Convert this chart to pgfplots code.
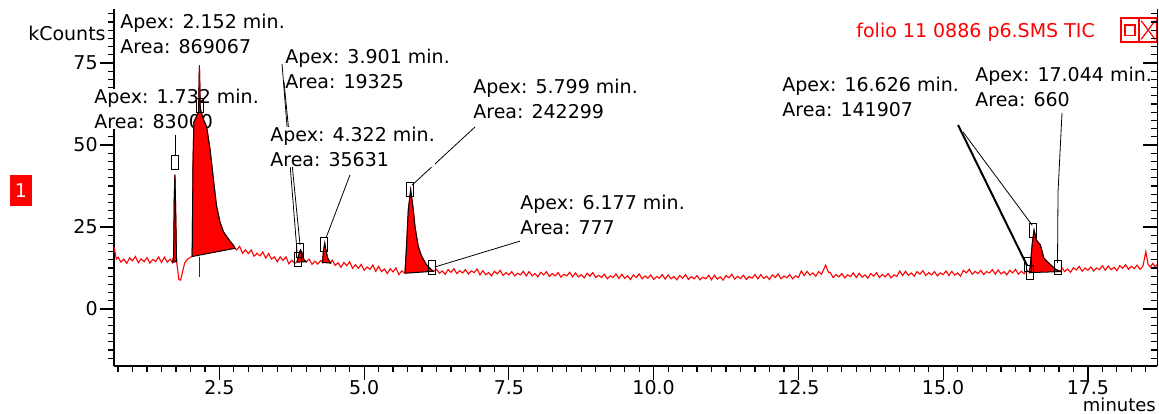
\documentclass[border=0pt]{standalone}
\usepackage{fontspec}
\setmainfont{DejaVu Sans}
\usepackage{pgfplots}
\pgfplotsset{compat=1.18}
\definecolor{tic}{RGB}{255,0,0}
\definecolor{rtmark}{RGB}{150,0,0}

\newcommand{\lblfont}{\fontsize{9.5pt}{12.5pt}\selectfont}

\begin{document}
\begin{tikzpicture}[font=\lblfont,
    lbl/.style={fill=white, inner sep=0pt, align=left, anchor=north west},
    leader/.style={black, line width=0.4pt}]
\begin{axis}[
    name=main,
    x=28.95pt, y=1.64pt,
    xmin=0.68, xmax=18.7, ymin=-17.4, ymax=91.5,
    axis x line*=bottom, axis y line*=left,
    axis line style={-, line width=0.6pt},
    tick align=outside,
    major tick length=7pt, minor tick length=3pt,
    tick style={black, line width=0.6pt},
    xtick={2.5,5,...,17.5},
    xticklabels={2.5,5.0,7.5,10.0,12.5,15.0,17.5},
    minor xtick={0.75,1,...,18.5},
    ytick={0,25,50,75},
    yticklabels={0,25,50,75},
    minor ytick={-15,-12.5,...,90},
    every tick label/.append style={font=\lblfont},
    xticklabel style={inner sep=0pt},
    yticklabel style={inner sep=1pt},
    clip=false
]
% leader lines (drawn first, the white label boxes cover parts of them)
\draw[leader] (axis cs:1.737,47) -- (axis cs:1.737,53);
\draw[leader] (axis cs:3.582,74.7) -- (axis cs:3.841,17.5);
\draw[leader] (axis cs:3.616,69.2) -- (axis cs:3.893,19.5);
\draw[leader] (axis cs:4.756,40.9) -- (axis cs:4.34,21.6);
\draw[leader] (axis cs:6.915,55.5) -- (axis cs:5.83,37.8);
\draw[leader] (axis cs:7.692,20.7) -- (axis cs:6.22,12.8);
\draw[black, line width=1pt] (axis cs:15.257,56.1) -- (axis cs:16.45,13.2);
\draw[leader] (axis cs:15.343,54.0) -- (axis cs:16.54,25.5);
\draw[leader] (axis cs:17.053,59.8) -- (axis cs:16.984,35.7) -- (axis cs:16.975,14.0);

% peak labels
\node[lbl] at (axis cs:0.784,89.9) {Apex: 2.152 min.\\Area: 869067};
\node[lbl] at (axis cs:0.335,67.1) {Apex: 1.732 min.\\Area: 83000};
\node[lbl] at (axis cs:3.633,79.3) {Apex: 3.901 min.\\Area: 19325};
\node[lbl] at (axis cs:3.374,55.5) {Apex: 4.322 min.\\Area: 35631};
\node[lbl] at (axis cs:6.880,70.1) {Apex: 5.799 min.\\Area: 242299};
\node[lbl] at (axis cs:7.692,34.8) {Apex: 6.177 min.\\Area: 777};
\node[lbl] at (axis cs:12.217,70.7) {Apex: 16.626 min.\\Area: 141907};
\node[lbl] at (axis cs:15.55,73.8) {Apex: 17.044 min.\\Area: 660};

% TIC trace
\addplot[tic, line width=0.55pt] coordinates {
(0.68,19.0) (0.72,15.2) (0.75,15.8) (0.80,14.3) (0.85,15.2) (0.90,13.9) (0.95,15.6)
(1.00,14.7) (1.05,16.0) (1.10,14.1) (1.15,15.3) (1.20,14.4) (1.25,15.7) (1.30,14.0)
(1.35,15.1) (1.40,14.5) (1.45,15.9) (1.50,14.2) (1.55,15.8) (1.60,14.3) (1.65,15.2)
(1.69,14.2) (1.71,16.0) (1.72,33.0) (1.732,41.0) (1.745,30.0) (1.76,14.5) (1.78,12.0)
(1.80,9.0) (1.83,8.8) (1.86,11.0) (1.90,14.0) (1.95,15.2) (2.00,15.8) (2.03,16.0)
(2.045,45.0) (2.06,57.0) (2.10,58.5) (2.14,60.0) (2.155,74.0) (2.17,61.0) (2.22,58.0)
(2.28,55.5) (2.34,48.5) (2.40,39.0) (2.45,31.5) (2.51,26.5) (2.57,23.5) (2.63,22.0)
(2.69,20.5) (2.74,19.5) (2.77,18.5) (2.80,18.0) (2.85,19.1) (2.90,17.0) (2.95,18.0)
(3.00,16.9) (3.05,18.0) (3.10,16.1) (3.15,17.0) (3.20,16.2) (3.25,17.4) (3.30,15.5)
(3.35,16.9) (3.40,15.2) (3.45,15.9) (3.50,14.4) (3.55,15.9) (3.60,14.8) (3.65,15.9)
(3.70,13.8) (3.75,14.9) (3.80,13.9) (3.84,14.3) (3.87,16.5) (3.90,18.0) (3.93,17.0)
(3.96,15.0) (4.00,14.4) (4.05,15.2) (4.10,13.6) (4.15,14.6) (4.20,13.7) (4.25,14.8)
(4.28,14.2) (4.30,18.0) (4.32,20.0) (4.34,18.0) (4.37,15.5) (4.42,14.0) (4.45,14.9)
(4.50,13.3) (4.55,14.1) (4.60,12.7) (4.65,14.2) (4.70,13.2) (4.75,14.4) (4.80,12.4)
(4.85,13.5) (4.90,12.4) (4.95,13.6) (5.00,11.8) (5.05,12.8) (5.10,12.1) (5.15,13.4)
(5.20,11.5) (5.25,13.0) (5.30,11.4) (5.35,12.2) (5.40,10.8) (5.45,12.3) (5.50,11.3)
(5.55,12.5) (5.60,10.5) (5.65,11.6) (5.706,10.9) (5.735,20.0) (5.763,30.2) (5.804,36.3)
(5.849,30.2) (5.878,25.1) (5.935,19.0) (5.994,16.0) (6.08,13.4) (6.167,11.9) (6.195,11.5)
(6.25,12.1) (6.30,10.9) (6.35,11.6) (6.40,10.6) (6.45,12.0) (6.50,11.2) (6.55,12.3)
(6.60,10.8) (6.65,11.7) (6.70,11.0) (6.75,12.0) (6.80,10.7) (6.85,11.6) (6.90,11.1)
(6.95,12.2) (7.00,10.4) (7.05,11.7) (7.10,10.5) (7.15,11.1) (7.20,10.1) (7.25,11.5)
(7.30,10.7) (7.35,11.8) (7.40,10.2) (7.45,11.1) (7.50,10.4) (7.55,11.4) (7.60,10.1)
(7.65,10.9) (7.70,10.4) (7.75,11.5) (7.80,10.1) (7.85,11.4) (7.90,10.1) (7.95,10.8)
(8.00,9.8) (8.05,11.2) (8.10,10.4) (8.15,11.4) (8.20,9.9) (8.25,10.8) (8.30,10.1)
(8.35,11.1) (8.40,9.7) (8.45,10.6) (8.50,10.1) (8.55,11.2) (8.60,9.8) (8.65,11.0)
(8.70,9.8) (8.75,10.5) (8.80,9.5) (8.85,10.9) (8.90,10.0) (8.95,11.1) (9.00,9.6)
(9.05,10.3) (9.10,9.6) (9.15,10.6) (9.20,9.2) (9.25,10.1) (9.30,9.6) (9.35,10.7)
(9.40,9.3) (9.45,10.6) (9.50,9.4) (9.55,10.1) (9.60,9.0) (9.65,10.4) (9.70,9.6)
(9.75,10.7) (9.80,9.2) (9.85,10.1) (9.90,9.4) (9.95,10.4) (10.00,9.0) (10.05,9.9)
(10.10,9.4) (10.15,10.5) (10.20,9.1) (10.25,10.4) (10.30,9.2) (10.35,9.9) (10.40,8.9)
(10.45,10.2) (10.50,9.4) (10.55,10.5) (10.60,9.0) (10.65,9.9) (10.70,9.2) (10.75,10.2)
(10.80,8.9) (10.85,9.7) (10.90,9.2) (10.95,10.3) (11.00,8.9) (11.05,10.3) (11.10,9.1)
(11.15,9.8) (11.20,8.8) (11.25,10.2) (11.30,9.5) (11.35,10.6) (11.40,9.1) (11.45,10.0)
(11.50,9.3) (11.55,10.3) (11.60,9.0) (11.65,9.9) (11.70,9.4) (11.75,10.5) (11.80,9.2)
(11.85,10.5) (11.90,9.3) (11.95,10.0) (12.00,9.0) (12.05,10.4) (12.10,9.6) (12.15,10.7)
(12.20,9.2) (12.25,10.1) (12.30,9.5) (12.35,10.5) (12.40,9.2) (12.45,10.1) (12.50,9.6)
(12.55,11.6) (12.60,10.2) (12.65,11.5) (12.70,10.3) (12.75,11.0) (12.80,10.0) (12.85,11.4)
(12.90,10.6) (12.97,13.4) (13.02,11.2) (13.05,11.1) (13.10,9.6) (13.15,10.5) (13.20,9.8)
(13.25,10.8) (13.30,9.5) (13.35,10.4) (13.40,9.9) (13.45,11.0) (13.50,9.6) (13.55,10.9)
(13.60,9.7) (13.65,10.4) (13.70,9.4) (13.75,10.8) (13.80,10.0) (13.85,11.1) (13.90,9.6)
(13.95,10.5) (14.00,9.8) (14.05,10.8) (14.10,9.5) (14.15,10.4) (14.20,9.9) (14.25,11.6)
(14.30,10.2) (14.35,11.5) (14.40,10.3) (14.45,11.0) (14.50,10.0) (14.55,11.4) (14.60,10.6)
(14.65,11.7) (14.70,10.2) (14.75,11.1) (14.80,10.4) (14.85,11.4) (14.90,10.1) (14.95,11.0)
(15.00,10.5) (15.05,11.6) (15.10,10.2) (15.15,11.5) (15.20,10.3) (15.25,11.0) (15.30,10.0)
(15.35,11.8) (15.40,11.0) (15.45,12.1) (15.50,10.6) (15.55,11.5) (15.60,10.8) (15.65,11.8)
(15.70,10.5) (15.75,11.4) (15.80,11.0) (15.85,12.0) (15.90,10.6) (15.95,11.9) (16.00,10.7)
(16.05,11.4) (16.10,10.4) (16.15,11.8) (16.20,11.0) (16.25,12.1) (16.30,10.6) (16.35,11.5)
(16.40,10.8) (16.45,11.8) (16.49,11.1) (16.51,14.0) (16.54,20.0) (16.57,24.0) (16.61,21.0)
(16.68,19.5) (16.74,15.5) (16.80,14.4) (16.86,13.4) (16.94,12.1) (17.03,11.4) (17.05,12.6)
(17.10,11.4) (17.15,12.2) (17.20,11.2) (17.25,12.6) (17.30,11.9) (17.35,13.0) (17.40,11.5)
(17.45,12.5) (17.50,11.8) (17.55,12.8) (17.60,11.6) (17.65,12.5) (17.70,12.0) (17.75,13.2)
(17.80,11.8) (17.85,13.1) (17.90,12.0) (17.95,12.7) (18.00,11.7) (18.05,13.2) (18.10,12.4)
(18.15,13.5) (18.20,12.1) (18.25,13.0) (18.30,12.3) (18.35,13.4) (18.40,12.1) (18.45,13.0)
(18.50,17.5) (18.54,13.6) (18.58,12.8) (18.62,13.9) (18.66,12.9) (18.70,13.6)
};

% integrated peak areas
\addplot[fill=tic, draw=black, line width=0.5pt] coordinates {
(1.69,14.2) (1.71,16.0) (1.72,33.0) (1.732,41.0) (1.745,30.0) (1.76,14.5) (1.69,14.2)};
\addplot[fill=tic, draw=black, line width=0.5pt] coordinates {
(2.03,16.0) (2.045,45.0) (2.06,57.0) (2.10,58.5) (2.14,60.0) (2.155,74.0) (2.17,61.0)
(2.22,58.0) (2.28,55.5) (2.34,48.5) (2.40,39.0) (2.45,31.5) (2.51,26.5) (2.57,23.5)
(2.63,22.0) (2.69,20.5) (2.74,19.5) (2.77,18.5) (2.03,16.0)};
\addplot[fill=tic, draw=black, line width=0.5pt] coordinates {
(3.84,14.3) (3.87,16.5) (3.90,18.0) (3.93,17.0) (3.96,15.0) (4.0,14.4) (3.84,14.3)};
\addplot[fill=tic, draw=black, line width=0.5pt] coordinates {
(4.28,14.2) (4.30,18.0) (4.32,20.0) (4.34,18.0) (4.37,15.5) (4.42,14.0) (4.28,14.2)};
\addplot[fill=tic, draw=black, line width=0.5pt] coordinates {
(5.706,10.9) (5.735,20.0) (5.763,30.2) (5.804,36.3) (5.849,30.2) (5.878,25.1) (5.935,19.0)
(5.994,16.0) (6.08,13.4) (6.167,11.9) (6.195,11.5) (5.706,10.9)};
\addplot[fill=tic, draw=black, line width=0.5pt] coordinates {
(16.49,11.1) (16.51,14.0) (16.54,20.0) (16.57,24.0) (16.61,21.0) (16.68,19.5) (16.74,15.5)
(16.80,14.4) (16.86,13.4) (16.94,12.1) (17.03,11.4) (16.49,11.1)};

% retention marker of the main peak
\draw[rtmark, line width=0.8pt] (axis cs:2.157,64.2) -- (axis cs:2.157,74.5);
\draw[rtmark, line width=0.8pt] (axis cs:2.157,15.9) -- (axis cs:2.157,9.8);

% peak start / apex / end boxes
\addplot[only marks, mark=square, mark size=3.5pt,
    mark options={xscale=0.5, draw=black, line width=0.5pt}] coordinates {
(1.737,44.7) (2.157,62.0) (3.86,15.0) (3.90,17.8) (4.31,19.7) (5.80,36.4)
(6.18,12.8) (16.47,13.5) (16.50,11.0) (16.56,23.8) (16.99,12.8)};

% window decorations
\node[anchor=east, inner sep=0pt] at (axis cs:0.542,84.1) {kCounts};
\node[anchor=base east, inner sep=0pt, font=\fontsize{9pt}{11pt}\selectfont]
    at (axis cs:18.68,-31.3) {minutes};
\node[anchor=west, inner sep=0pt, text=tic] at (axis cs:13.495,84.5) {folio 11 0886 p6.SMS TIC};
\node[fill=tic, text=white, inner sep=0pt, minimum width=11pt, minimum height=15.5pt]
    at (axis cs:-0.926,36.1) {1};
\draw[tic, line width=0.6pt] (axis cs:18.072,81.4) rectangle (axis cs:18.694,88.7);
\draw[tic, line width=0.6pt] (axis cs:18.383,81.4) -- (axis cs:18.383,88.7);
\draw[tic, line width=0.6pt] (axis cs:18.141,83.5) rectangle (axis cs:18.313,86.6);
\draw[tic, line width=0.6pt] (axis cs:18.42,82.2) -- (axis cs:18.66,87.9)
    (axis cs:18.42,87.9) -- (axis cs:18.66,82.2);

\coordinate (bbll) at (axis cs:-1.289,-32.0);
\coordinate (bbur) at (axis cs:18.728,94.21);
\end{axis}

% right-hand axis with inward ticks
\begin{axis}[
    at={(main.south west)}, anchor=south west,
    x=28.95pt, y=1.64pt,
    xmin=0.68, xmax=18.7, ymin=-17.4, ymax=91.5,
    hide x axis,
    axis y line*=right,
    axis line style={-, line width=0.6pt},
    tick align=inside,
    major tick length=7pt, minor tick length=3pt,
    tick style={black, line width=0.6pt},
    ytick={0,25,50,75}, yticklabels={},
    minor ytick={-15,-12.5,...,90}
]
\end{axis}
\pgfresetboundingbox
\path[use as bounding box] (bbll) rectangle (bbur);
\end{tikzpicture}
\end{document}
